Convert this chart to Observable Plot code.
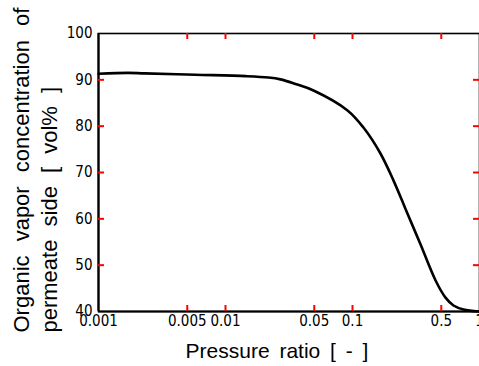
<!DOCTYPE html>
<html>
<head>
<meta charset="utf-8">
<script src="https://cdn.jsdelivr.net/npm/d3@7"></script>
<script src="https://cdn.jsdelivr.net/npm/@observablehq/plot@0.6"></script>
<style>
  html, body { margin: 0; padding: 0; background: white; }
  #chart { width: 479px; height: 366px; overflow: hidden; }
</style>
</head>
<body>
<div id="chart"></div>
<script>
// Data
const pressureRatio = [0.001, 0.0017, 0.0023, 0.0058, 0.0144, 0.0218, 0.0271, 0.0356, 0.0493, 0.0914, 0.122, 0.166, 0.210, 0.261, 0.343, 0.451, 0.540, 0.624, 0.748, 1.0];
const concentration = [91.3, 91.5, 91.4, 91.1, 90.8, 90.5, 90.1, 89.1, 87.7, 83.4, 79.7, 74.1, 68.3, 62.2, 54.5, 46.7, 43.0, 41.3, 40.45, 40.0];

const xTickLabels = [0.001, 0.005, 0.01, 0.05, 0.1, 0.5, 1];
const xInnerTicks = [0.005, 0.01, 0.05, 0.1, 0.5];
const yTickLabels = [40, 50, 60, 70, 80, 90, 100];
const yInnerTicks = [50, 60, 70, 80, 90];

const yLabelLine1 = "Organic vapor concentration of";
const yLabelLine2 = "permeate side [ vol% ]";
const xLabel = "Pressure ratio [ - ]";

const data = pressureRatio.map((p, i) => ({p, c: concentration[i]}));

const tickFont = "'Liberation Sans Narrow', 'DejaVu Sans Condensed', 'Arial Narrow', sans-serif";
const labelFont = "'Liberation Sans', Arial, Helvetica, sans-serif";

const svg = Plot.plot({
  width: 479,
  height: 366,
  marginLeft: 98,
  marginRight: 0,
  marginTop: 33,
  marginBottom: 55,
  style: {background: "white", color: "black"},
  x: {type: "log", domain: [0.001, 1], axis: null},
  y: {domain: [40, 100], axis: null},
  marks: [
    Plot.frame({stroke: "black", strokeWidth: 1.6}),
    Plot.ruleX([0.001], {stroke: "black", strokeWidth: 2.2}),
    Plot.ruleY([40], {stroke: "black", strokeWidth: 2.2}),
    // inward ticks (frame is 278 px tall and 381 px wide; ticks 6 px long)
    Plot.tickX(xInnerTicks, {x: d => d, insetBottom: 272, stroke: "red", strokeWidth: 2}),
    Plot.tickX(xInnerTicks, {x: d => d, insetTop: 272, stroke: "red", strokeWidth: 2}),
    Plot.tickY(yInnerTicks, {y: d => d, insetRight: 375, stroke: "red", strokeWidth: 2}),
    Plot.tickY(yInnerTicks, {y: d => d, insetLeft: 375, stroke: "red", strokeWidth: 2}),
    // tick labels
    Plot.text(yTickLabels, {y: d => d, text: d => String(d), frameAnchor: "left", dx: -6, textAnchor: "end",
      fontSize: 15, fontFamily: tickFont, fill: "black"}),
    Plot.text(xTickLabels, {x: d => d, text: d => String(d), frameAnchor: "bottom", dy: 4, lineAnchor: "top",
      fontSize: 15, fontFamily: tickFont, fill: "black"}),
    // curve
    Plot.line(data, {x: "p", y: "c", stroke: "black", strokeWidth: 2.6, curve: "catmull-rom"}),
    // axis titles
    Plot.text([yLabelLine1], {frameAnchor: "bottom-left", dx: -70, dy: 21, rotate: -90, textAnchor: "start",
      lineAnchor: "bottom", fontSize: 22, fontFamily: labelFont, fill: "black"}),
    Plot.text([yLabelLine2], {frameAnchor: "bottom-left", dx: -42, dy: 21, rotate: -90, textAnchor: "start",
      lineAnchor: "bottom", fontSize: 22, fontFamily: labelFont, fill: "black"}),
    Plot.text([xLabel], {frameAnchor: "bottom", dx: -12, dy: 46, lineAnchor: "bottom",
      fontSize: 21, fontFamily: labelFont, fill: "black"})
  ]
});

d3.select(svg).selectAll("text").each(function() {
  const t = this.textContent;
  if (t === yLabelLine1) d3.select(this).style("word-spacing", "8px");
  else if (t === yLabelLine2) d3.select(this).style("word-spacing", "7px");
  else if (t === xLabel) d3.select(this).style("word-spacing", "4px");
});

document.getElementById("chart").appendChild(svg);
</script>
</body>
</html>
